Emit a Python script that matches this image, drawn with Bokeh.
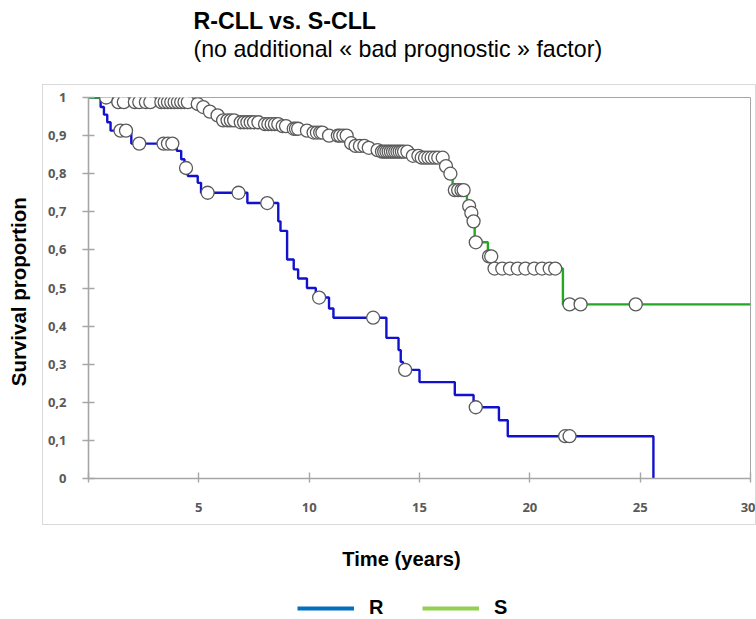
import math
import numpy as np
from bokeh.plotting import figure
from bokeh.layouts import column, row
from bokeh.models import Range1d, FixedTicker, Legend, LegendItem, Label
from bokeh.embed import file_html
from bokeh.resources import INLINE

# ---------------- data ----------------
R_TIMES = [0.55, 0.7, 0.85, 1.0, 1.94, 4.0, 4.2, 4.35, 4.5, 4.95, 5.1, 7.2, 8.6, 8.7, 9.0, 9.3,
           9.5, 9.9, 10.3, 10.9, 11.1, 13.5, 14.05, 14.15, 14.25, 15.0, 16.6, 17.45, 18.6, 19.0, 25.6]
R_SURV = [0.975, 0.955, 0.935, 0.913, 0.879, 0.86, 0.838, 0.815, 0.794, 0.776, 0.75, 0.723, 0.675,
          0.65, 0.575, 0.549, 0.525, 0.50, 0.475, 0.446, 0.422, 0.369, 0.337, 0.306, 0.285, 0.253,
          0.219, 0.187, 0.153, 0.111, 0.0]
R_CENSOR = [1.45, 1.7, 2.3, 3.4, 3.6, 3.8, 4.42, 5.4, 6.8, 8.1, 10.45, 12.9, 14.35, 17.55, 21.6, 21.8]

S_TIMES = [1.0, 4.8, 5.1, 5.4, 5.75, 6.0, 6.8, 7.9, 8.7, 9.2, 9.8, 10.1, 10.8, 11.8, 12.0, 12.6,
           13.0, 13.2, 14.6, 15.0, 16.15, 16.3, 16.5, 17.15, 17.3, 17.4, 17.5, 18.1, 18.35, 21.5]
S_SURV = [0.988, 0.983, 0.975, 0.963, 0.953, 0.94, 0.935, 0.93, 0.925, 0.918, 0.913, 0.908, 0.90,
          0.88, 0.873, 0.868, 0.862, 0.858, 0.847, 0.842, 0.82, 0.80, 0.757, 0.715, 0.697, 0.675,
          0.62, 0.583, 0.551, 0.457]
S_END = 30
S_CENSOR = [0.8, 1.35, 1.6, 2.1, 2.3, 2.6, 2.8, 3.3, 3.45, 3.6, 3.75, 3.9, 4.05, 4.2, 4.35, 4.5,
            4.95, 5.2, 5.5, 5.85, 6.1, 6.3, 6.45, 6.6, 6.9, 7.05, 7.2, 7.35, 7.5, 7.7, 8.0, 8.15,
            8.3, 8.45, 8.6, 8.8, 8.95, 9.3, 9.4, 9.5, 9.9, 10.2, 10.35, 10.5, 10.6, 10.9, 11.3,
            11.4, 11.55, 11.7, 11.9, 12.1, 12.3, 12.5, 12.7, 13.1, 13.3, 13.4, 13.5, 13.6, 13.7,
            13.8, 13.9, 14.0, 14.1, 14.2, 14.3, 14.45, 14.7, 14.95, 15.1, 15.25, 15.4, 15.55, 15.7,
            15.85, 16.05, 16.2, 16.4, 16.6, 16.75, 16.9, 17.0, 17.25, 17.35, 17.45, 17.55, 18.15,
            18.25, 18.4, 18.75, 19.1, 19.45, 19.8, 20.2, 20.55, 20.9, 21.15, 21.8, 22.3, 24.8]

X_TICKS = [0, 5, 10, 15, 20, 25, 30]
X_LABELS = ["", "5", "10", "15", "20", "25", "30"]
Y_TICKS = [0.0, 0.1, 0.2, 0.3, 0.4, 0.5, 0.6, 0.7, 0.8, 0.9, 1.0]
Y_LABELS = ["0", "0,1", "0,2", "0,3", "0,4", "0,5", "0,6", "0,7", "0,8", "0,9", "1"]

TITLE = "R-CLL vs. S-CLL"
SUBTITLE = "(no additional « bad prognostic » factor)"
X_TITLE = "Time (years)"
Y_TITLE = "Survival proportion"
SERIES = ["R", "S"]


def km_at(times, surv, t):
    idx = np.searchsorted(np.array(times), np.array(t), side="right")
    vals = np.concatenate([[1.0], surv])
    return vals[idx]


def blank_fig(w, h):
    f = figure(width=w, height=h, output_backend="svg", toolbar_location=None,
               x_range=Range1d(0, w), y_range=Range1d(h, 0),
               x_axis_location=None, y_axis_location=None,
               min_border=0, min_border_left=0, min_border_right=0,
               min_border_top=0, min_border_bottom=0,
               background_fill_color="white", border_fill_color="white")
    f.grid.visible = False
    f.outline_line_color = None
    return f


W = 756
TOP_H = 84       # page rows 0..84: titles
BOX_H = 441      # page rows 84..525: chart box
BOT_H = 94       # page rows 525..619: x title and legend
LEFT_W = 42      # page cols 0..42: y title

# ---------------- titles ----------------
top = blank_fig(W, TOP_H)
top.add_layout(Label(x=193, y=20, text=TITLE, text_font="Liberation Sans",
                     text_font_style="bold", text_font_size="23.2px", text_color="#000000",
                     text_baseline="alphabetic", text_align="left"))
top.add_layout(Label(x=193, y=48, text=SUBTITLE, text_font="Liberation Sans",
                     text_font_style="normal", text_font_size="23.2px", text_color="#000000",
                     text_baseline="alphabetic", text_align="left"))

# ---------------- y title ----------------
left = blank_fig(LEFT_W, BOX_H)
left.add_layout(Label(x=18, y=310 - 84, text=Y_TITLE, angle=math.pi / 2,
                      text_font="Liberation Sans", text_font_style="bold",
                      text_font_size="20.5px", text_color="#000000",
                      text_baseline="middle", text_align="center"))

# ---------------- main chart box ----------------
p = figure(width=W - LEFT_W, height=BOX_H, output_backend="svg", toolbar_location=None,
           x_range=Range1d(0, 30), y_range=Range1d(0, 1),
           min_border_left=45, min_border_right=7, min_border_top=12, min_border_bottom=48,
           background_fill_color="white", border_fill_color="white")
p.styles = {"border": "1px solid #d9d9d9", "box-sizing": "border-box"}
p.grid.visible = False
p.outline_line_color = "#a6a6a6"
p.outline_line_width = 1

for ax in (p.xaxis[0], p.yaxis[0]):
    ax.axis_line_color = "#a6a6a6"
    ax.axis_line_width = 1.6
    ax.major_tick_line_color = "#a6a6a6"
    ax.major_tick_line_width = 1.4
    ax.minor_tick_line_color = None
    ax.major_label_text_font = "Open Sans"
    ax.major_label_text_font_style = "bold"
    ax.major_label_text_font_size = "13px"
    ax.major_label_text_color = "#595959"

p.xaxis.ticker = FixedTicker(ticks=X_TICKS)
p.xaxis.major_label_overrides = {t: l for t, l in zip(X_TICKS, X_LABELS)}
p.xaxis.major_tick_in = 6
p.xaxis.major_tick_out = 4
p.xaxis.major_label_standoff = 20

p.yaxis.ticker = FixedTicker(ticks=Y_TICKS)
p.yaxis.major_label_overrides = {t: l for t, l in zip(Y_TICKS, Y_LABELS)}
p.yaxis.major_tick_in = 6
p.yaxis.major_tick_out = 6
p.yaxis.major_label_standoff = 16

R_COLOR = "#1212cc"
S_COLOR = "#22a822"

rx = [0] + R_TIMES
ry = [1.0] + R_SURV
p.step(rx, ry, mode="after", line_color=R_COLOR, line_width=2.4)

sx = [0] + S_TIMES + [S_END]
sy = [1.0] + S_SURV + [S_SURV[-1]]
p.step(sx, sy, mode="after", line_color=S_COLOR, line_width=2.4)

p.scatter(R_CENSOR, km_at(R_TIMES, R_SURV, R_CENSOR), marker="circle", size=13,
          fill_color="white", line_color="#5a5a5a", line_width=1.3)
p.scatter(S_CENSOR, km_at(S_TIMES, S_SURV, S_CENSOR), marker="circle", size=13,
          fill_color="white", line_color="#5a5a5a", line_width=1.3)

# ---------------- x title and legend ----------------
bot = blank_fig(W, BOT_H)
bot.add_layout(Label(x=401, y=558 - 525, text=X_TITLE, text_font="Liberation Sans",
                     text_font_style="bold", text_font_size="20.2px", text_color="#000000",
                     text_baseline="middle", text_align="center"))
# legend-only renderers: their data lie outside the visible range
leg_r = bot.line([-100, -90], [-100, -100], line_color="#0070C0", line_width=4)
leg_s = bot.line([-100, -90], [-100, -100], line_color="#92D050", line_width=4)
legend = Legend(items=[LegendItem(label=SERIES[0], renderers=[leg_r]),
                       LegendItem(label=SERIES[1], renderers=[leg_s])],
                orientation="horizontal", location=(297, 0),
                glyph_width=57, glyph_height=20, label_height=20, label_width=20,
                label_standoff=15, spacing=33, padding=0, margin=0,
                border_line_color=None, background_fill_alpha=0,
                label_text_font="Liberation Sans", label_text_font_style="bold",
                label_text_font_size="20px", label_text_color="#000000")
bot.add_layout(legend, "center")

layout = column(top, row(left, p), bot)

open("out.html", "w").write(file_html(layout, INLINE))
